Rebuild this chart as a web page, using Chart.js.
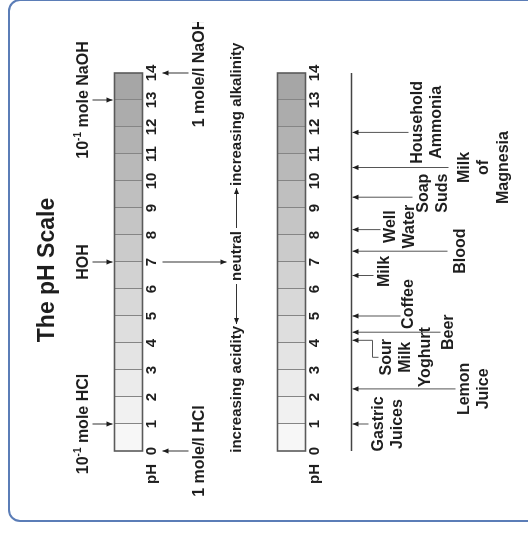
<!DOCTYPE html>
<html>
<head>
<meta charset="utf-8">
<script src="https://cdn.jsdelivr.net/npm/chart.js@4.4.1/dist/chart.umd.min.js"></script>
<style>
  html, body { margin: 0; padding: 0; background: #fff; }
  #page { position: relative; width: 528px; height: 533px; overflow: hidden; background: #fff; }
  #frame { position: absolute; left: 8px; top: -1px; width: 540px; height: 523px; box-sizing: border-box;
           border: 2px solid #5b7db7; border-radius: 12px; }
  /* the figure is drawn upright, then turned a quarter turn to the left */
  #chart { position: absolute; left: 0; top: 0; transform-origin: 0 0; transform: translate(0, 533px) rotate(-90deg); }
</style>
</head>
<body>
<div id="page">
  <div id="frame"></div>
  <canvas id="chart" width="533" height="528"></canvas>
</div>
<script>
// Données
const title = 'The pH Scale';
const rows = ['Reference solutions', 'Common substances'];
const phTicks = [0, 1, 2, 3, 4, 5, 6, 7, 8, 9, 10, 11, 12, 13, 14];

const reagentLabels = ['10⁻¹ mole HCl', 'HOH', '10⁻¹ mole NaOH'];
const reagentPH = [1, 7, 13];
const molarLabels = ['1 mole/l HCl', '1 mole/l NaOH'];
const molarPH = [0, 14];

const neutralPH = 7;
const scaleLabels = ['increasing acidity', 'neutral', 'increasing alkalinity'];

const substanceNames = ['Gastric Juices', 'Lemon Juice', 'Sour Milk Yoghurt', 'Beer', 'Coffee', 'Milk',
    'Blood', 'Well Water', 'Soap Suds', 'Milk of Magnesia', 'Household Ammonia'];
const substancePH = [1.0, 2.3, 4.1, 4.4, 5.0, 6.5, 7.4, 8.2, 9.4, 10.5, 11.8];

// Mise en page des légendes (longueur du trait, position du texte, décalage)
const calloutStem = [17, 104, 21, 89, 49, 22, 96, 29, 61, 97, 57];
const calloutText = [27, 113, 35, 97, 57, 33, 109, 39, 72, 113, 66];
const calloutShift = [0, 0, -17, 0, 12, 4, 0, 3, 4, 0, 10];

const FONT = '"Liberation Sans", Arial, sans-serif';
const INK = '#1e1e1e';

function cellColor(i) {
    var g = Math.round(247 - i * (247 - 166) / 13);
    return 'rgb(' + g + ',' + g + ',' + g + ')';
}

function arrow(ctx, x1, y1, x2, y2) {
    ctx.beginPath();
    ctx.moveTo(x1, y1);
    ctx.lineTo(x2, y2);
    ctx.stroke();
    var a = Math.atan2(y2 - y1, x2 - x1), L = 6, W = 2.6;
    ctx.beginPath();
    ctx.moveTo(x2, y2);
    ctx.lineTo(x2 - L * Math.cos(a) + W * Math.sin(a), y2 - L * Math.sin(a) - W * Math.cos(a));
    ctx.lineTo(x2 - L * Math.cos(a) - W * Math.sin(a), y2 - L * Math.sin(a) + W * Math.cos(a));
    ctx.closePath();
    ctx.fill();
}

// texte avec exposants (10⁻¹)
function richText(ctx, text, cx, cy, size) {
    var parts = [], cur = '', sup = false;
    for (var ch of text) {
        var isSup = ch === '⁻' || ch === '¹';
        if (isSup !== sup && cur) { parts.push([cur, sup]); cur = ''; }
        sup = isSup;
        cur += isSup ? (ch === '⁻' ? '-' : '1') : ch;
    }
    if (cur) parts.push([cur, sup]);
    var total = 0;
    parts.forEach(function(p) {
        ctx.font = 'bold ' + (p[1] ? Math.round(size * 0.62) : size) + 'px ' + FONT;
        total += ctx.measureText(p[0]).width;
    });
    var xx = cx - total / 2;
    ctx.textAlign = 'left';
    parts.forEach(function(p) {
        ctx.font = 'bold ' + (p[1] ? Math.round(size * 0.62) : size) + 'px ' + FONT;
        ctx.fillText(p[0], xx, p[1] ? cy - size * 0.3 : cy);
        xx += ctx.measureText(p[0]).width;
    });
}

const phDiagram = {
    id: 'phDiagram',
    afterDatasetsDraw(chart) {
        const ctx = chart.ctx;
        const x = chart.scales.x;
        const bars = rows.map(function(r, i) {
            var el = chart.getDatasetMeta(0).data[i];
            return { top: el.y - el.height / 2, bottom: el.y + el.height / 2 };
        });
        const x0 = x.getPixelForValue(phTicks[0]);
        const x14 = x.getPixelForValue(phTicks[phTicks.length - 1]);

        ctx.save();
        ctx.beginPath();
        ctx.rect(0, 0, 511, chart.height);
        ctx.clip();
        ctx.fillStyle = INK;
        ctx.strokeStyle = '#333';
        ctx.textBaseline = 'middle';

        // séparations et contour des barres
        bars.forEach(function(b) {
            ctx.lineWidth = 1;
            ctx.strokeStyle = '#858585';
            for (var i = 1; i < phTicks.length - 1; i++) {
                var px = Math.round(x.getPixelForValue(phTicks[i])) + 0.5;
                ctx.beginPath();
                ctx.moveTo(px, b.top);
                ctx.lineTo(px, b.bottom);
                ctx.stroke();
            }
            ctx.lineWidth = 1.6;
            ctx.strokeStyle = '#5a5a5a';
            ctx.strokeRect(x0, b.top, x14 - x0, b.bottom - b.top);

            // graduations
            ctx.font = 'bold 15px ' + FONT;
            ctx.textAlign = 'center';
            phTicks.forEach(function(t) {
                ctx.fillText(String(t), x.getPixelForValue(t), b.bottom + 9);
            });
            ctx.textAlign = 'right';
            ctx.fillText('pH', x0 - 13, b.bottom + 9);
        });

        ctx.strokeStyle = '#333';
        ctx.lineWidth = 1;
        const b1 = bars[0], b2 = bars[1];

        // titre
        ctx.font = 'bold 23px ' + FONT;
        ctx.textAlign = 'center';
        ctx.fillText(title, (x0 + x14) / 2 - 8, b1.top - 67);

        // solutions de référence
        reagentLabels.forEach(function(lbl, i) {
            var px = x.getPixelForValue(reagentPH[i]);
            arrow(ctx, px, b1.top - 22, px, b1.top - 2);
            richText(ctx, lbl, px, b1.top - 31, 16);
        });
        molarLabels.forEach(function(lbl, i) {
            var px = x.getPixelForValue(molarPH[i]);
            arrow(ctx, px, b1.bottom + 46, px, b1.bottom + 20);
            ctx.font = 'bold 16px ' + FONT;
            ctx.textAlign = 'center';
            ctx.fillText(lbl, px, b1.bottom + 57);
        });

        // acidité / neutre / alcalinité
        const nx = x.getPixelForValue(neutralPH);
        const midV = b1.bottom + 94;
        arrow(ctx, nx, b1.bottom + 20, nx, midV - 10);
        ctx.font = 'bold 15px ' + FONT;
        const tx = nx + 6;
        const nw = ctx.measureText(scaleLabels[1]).width;
        ctx.textAlign = 'center';
        ctx.fillText(scaleLabels[1], tx, midV);
        arrow(ctx, tx - nw / 2 - 3, midV, tx - nw / 2 - 43, midV);
        ctx.textAlign = 'right';
        ctx.fillText(scaleLabels[0], tx - nw / 2 - 45, midV);
        arrow(ctx, tx + nw / 2 + 3, midV, tx + nw / 2 + 43, midV);
        ctx.textAlign = 'left';
        ctx.fillText(scaleLabels[2], tx + nw / 2 + 45, midV);

        // axe des substances
        const axisV = b2.bottom + 46;
        ctx.lineWidth = 1.6;
        ctx.strokeStyle = '#444';
        ctx.beginPath();
        ctx.moveTo(x0, axisV);
        ctx.lineTo(x14, axisV);
        ctx.stroke();
        ctx.lineWidth = 1;
        ctx.strokeStyle = '#555';

        substanceNames.forEach(function(name, i) {
            var px = x.getPixelForValue(substancePH[i]);
            var stemEnd = axisV + calloutStem[i];
            var cx = px + calloutShift[i];
            if (name === 'Sour Milk Yoghurt') {
                ctx.beginPath();
                ctx.moveTo(px, stemEnd);
                ctx.lineTo(cx, stemEnd);
                ctx.lineTo(cx, stemEnd + 6);
                ctx.stroke();
            }
            arrow(ctx, px, stemEnd, px, axisV + 1);
            ctx.font = 'bold 16px ' + FONT;
            ctx.textAlign = 'center';
            name.split(' ').forEach(function(line, k) {
                ctx.fillText(line, cx, axisV + calloutText[i] + k * 19.5);
            });
        });
        ctx.restore();
    }
};

const datasets = phTicks.slice(0, -1).map(function(t, i) {
    return {
        label: t + '-' + phTicks[i + 1],
        data: rows.map(function() { return [phTicks[i], phTicks[i + 1]]; }),
        backgroundColor: cellColor(i),
        borderWidth: 0,
        grouped: false,
        barThickness: 28
    };
});

new Chart(document.getElementById('chart'), {
    type: 'bar',
    data: { labels: rows, datasets: datasets },
    options: {
        indexAxis: 'y',
        responsive: false,
        animation: false,
        devicePixelRatio: 1,
        layout: { padding: { left: 82, right: 73, top: 47, bottom: 155 } },
        scales: {
            x: { type: 'linear', min: 0, max: 14, display: false },
            y: { type: 'category', display: false, offset: true }
        },
        plugins: { legend: { display: false }, tooltip: { enabled: false } }
    },
    plugins: [phDiagram]
});
</script>
</body>
</html>
